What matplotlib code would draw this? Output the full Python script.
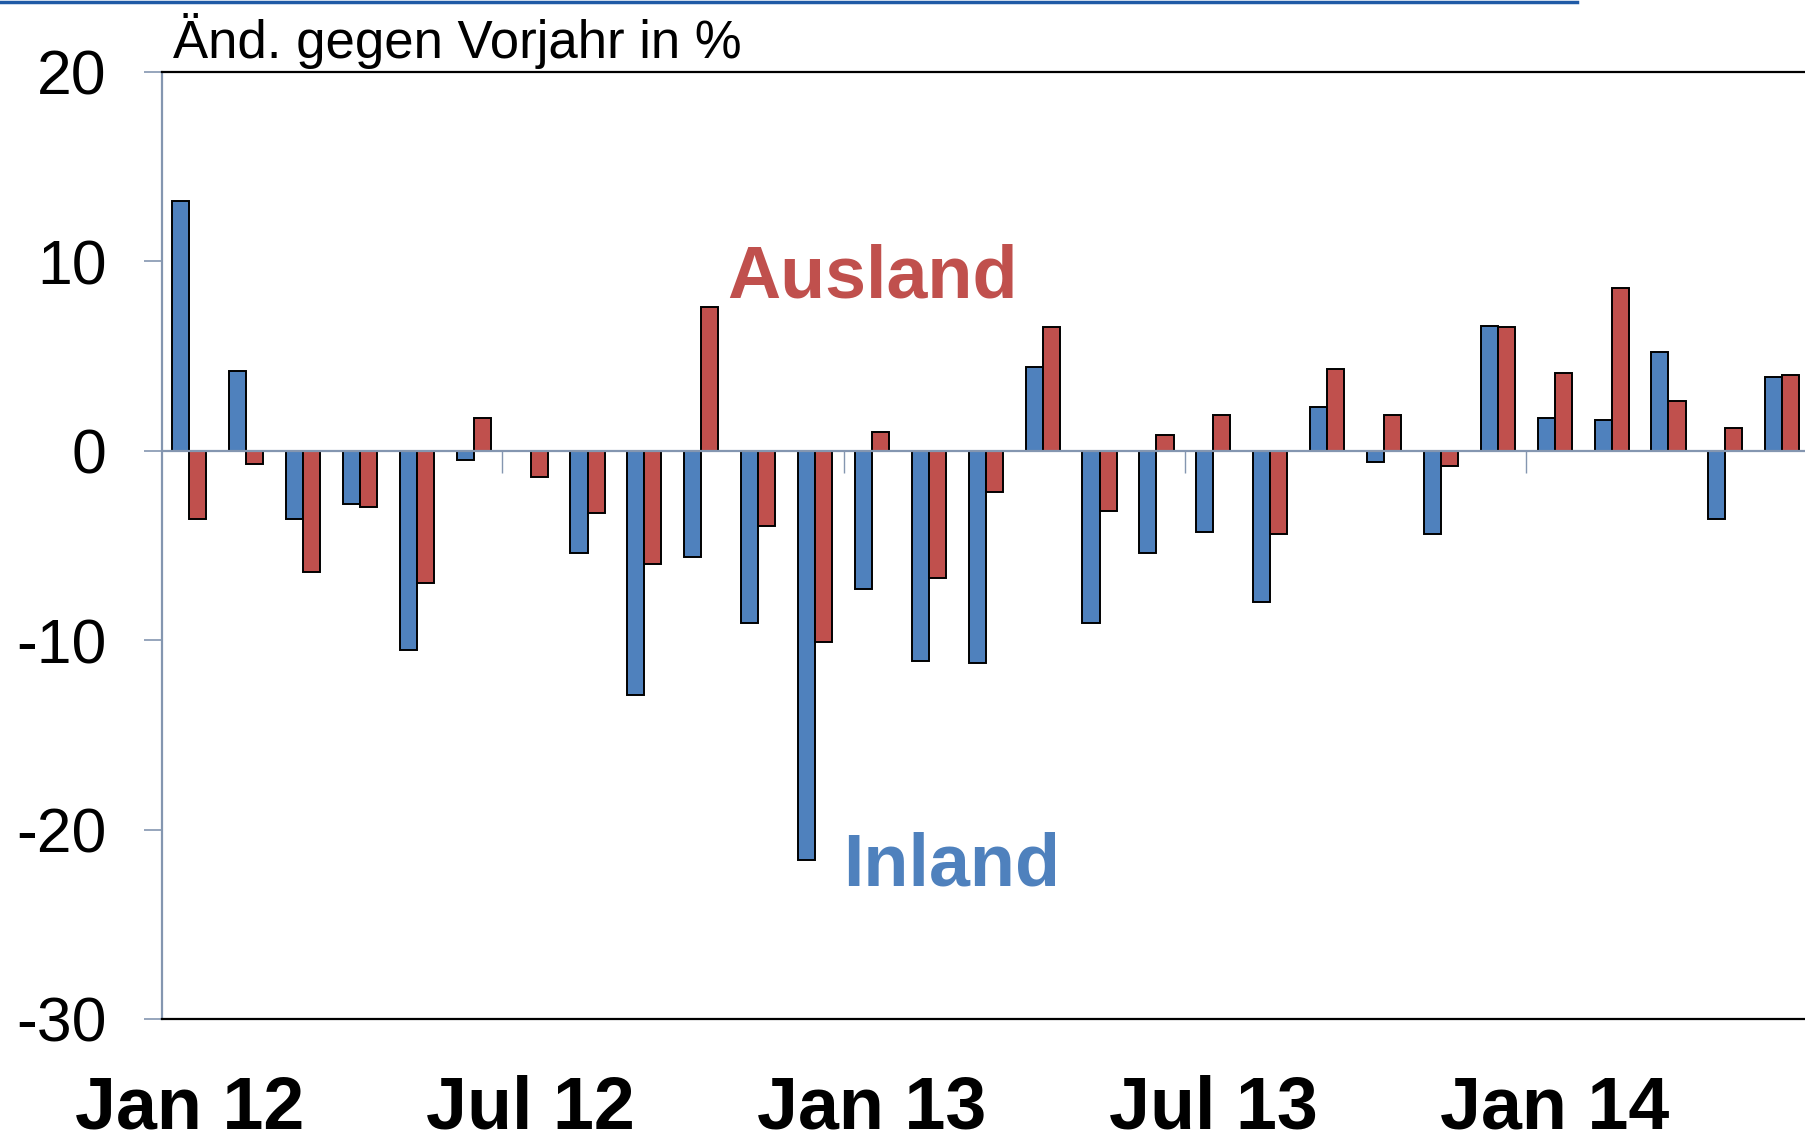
#!/usr/bin/ python
# -*- coding: utf-8 -*-

import matplotlib
matplotlib.use('Agg')
import matplotlib.pyplot as plt
from matplotlib.lines import Line2D
import numpy as np

# monthly change vs. previous year in %, Jan 12 .. May 14
months = ['Jan 12', 'Feb 12', 'Mar 12', 'Apr 12', 'May 12', 'Jun 12',
          'Jul 12', 'Aug 12', 'Sep 12', 'Oct 12', 'Nov 12', 'Dec 12',
          'Jan 13', 'Feb 13', 'Mar 13', 'Apr 13', 'May 13', 'Jun 13',
          'Jul 13', 'Aug 13', 'Sep 13', 'Oct 13', 'Nov 13', 'Dec 13',
          'Jan 14', 'Feb 14', 'Mar 14', 'Apr 14', 'May 14']
inland = [13.2, 4.2, -3.6, -2.8, -10.5, -0.5,
          0.0, -5.4, -12.9, -5.6, -9.1, -21.6,
          -7.3, -11.1, -11.2, 4.4, -9.1, -5.4,
          -4.3, -8.0, 2.3, -0.6, -4.4, 6.6,
          1.7, 1.6, 5.2, -3.6, 3.9]
ausland = [-3.6, -0.7, -6.4, -3.0, -7.0, 1.7,
           -1.4, -3.3, -6.0, 7.6, -4.0, -10.1,
           1.0, -6.7, -2.2, 6.5, -3.2, 0.8,
           1.9, -4.4, 4.3, 1.9, -0.8, 6.5,
           4.1, 8.6, 2.6, 1.2, 4.0]
label_months = ['Jan 12', 'Jul 12', 'Jan 13', 'Jul 13', 'Jan 14']

BLUE = '#4F81BD'
RED = '#C0504D'
AXIS = '#8496B0'
FONT = ['Liberation Sans', 'Arial', 'DejaVu Sans']

plt.rcParams['font.family'] = FONT

fig = plt.figure(figsize=(18.05, 11.38), dpi=100)
ax = fig.add_axes([162 / 1805, 1 - 1019 / 1138, 1 - 162 / 1805, (1019 - 71.7) / 1138])

x = np.arange(len(months))
w = 0.30
ax.bar(x - w / 2, inland, width=w, color=BLUE, edgecolor='black', linewidth=1.4, zorder=2)
ax.bar(x + w / 2, ausland, width=w, color=RED, edgecolor='black', linewidth=1.4, zorder=2)

# zero line with half-year separators
ax.axhline(0, color=AXIS, linewidth=1.6, zorder=3)
ax.vlines(np.arange(5.5, len(months), 6), -1.2, 0, color=AXIS, linewidth=1.0, zorder=3)

ax.set_xlim(-0.48, 28.4)
ax.set_ylim(-30, 20)
ax.set_yticks([-30, -20, -10, 0, 10, 20])
ax.set_yticklabels(['-30', '-20', '-10', '0', '10', '20'])
ax.tick_params(axis='y', direction='out', length=13, width=1.2, color=AXIS,
               labelsize=45, pad=27)

ax.set_xticks([months.index(m) for m in label_months])
ax.set_xticklabels(label_months, fontsize=53, fontweight='bold')
ax.tick_params(axis='x', length=0, pad=40)

ax.spines['left'].set_color(AXIS)
ax.spines['left'].set_linewidth(1.6)
ax.spines['top'].set_color('black')
ax.spines['top'].set_linewidth(1.6)
ax.spines['bottom'].set_color('black')
ax.spines['bottom'].set_linewidth(1.6)
ax.spines['right'].set_visible(False)

# series labels
ax.text(9.45, 8.1, 'Ausland', color=RED, fontsize=53, fontweight='bold',
        ha='left', va='baseline')
ax.text(11.49, -22.97, 'Inland', color=BLUE, fontsize=53, fontweight='bold',
        ha='left', va='baseline')

fig.text(173 / 1805, 1 - 58 / 1138, 'Änd. gegen Vorjahr in %', fontsize=38,
         ha='left', va='baseline')

# decorative rule at the top
fig.add_artist(Line2D([0, 1577 / 1805], [1 - 2 / 1138, 1 - 2 / 1138],
                      transform=fig.transFigure, color='#1F5AA6', linewidth=2.5))

plt.savefig('out.png', dpi=100)
